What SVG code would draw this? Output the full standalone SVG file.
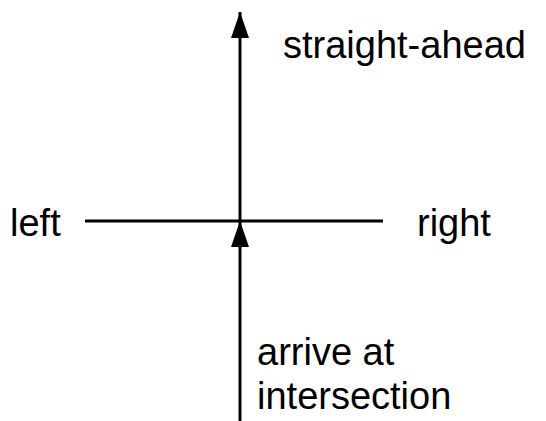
<svg xmlns="http://www.w3.org/2000/svg" width="546" height="421" viewBox="0 0 546 421">
<style>
text{font-family:"Liberation Sans",Arial,sans-serif;font-size:38px;fill:#000}
.ln{stroke:#000;stroke-width:3;fill:none}
</style>
<defs>
<marker id="ah" viewBox="0 0 26 18" refX="26" refY="9" markerWidth="26" markerHeight="18" markerUnits="userSpaceOnUse" orient="auto">
<path d="M0,0 L26,9 L0,18 Z" fill="#000"/>
</marker>
</defs>
<rect width="546" height="421" fill="#fff"/>
<g id="connectors">
<line class="ln" x1="240" y1="222" x2="240" y2="12" marker-end="url(#ah)"/>
<line class="ln" x1="85" y1="221" x2="383" y2="221"/>
<line class="ln" x1="240" y1="421" x2="240" y2="221" marker-end="url(#ah)"/>
</g>
<g id="straight"><text x="283" y="58">straight-ahead</text></g>
<g id="left"><text x="10" y="236">left</text></g>
<g id="right"><text x="417" y="236">right</text></g>
<g id="arrive"><text x="257" y="365">arrive at</text><text x="257" y="409">intersection</text></g>
</svg>
